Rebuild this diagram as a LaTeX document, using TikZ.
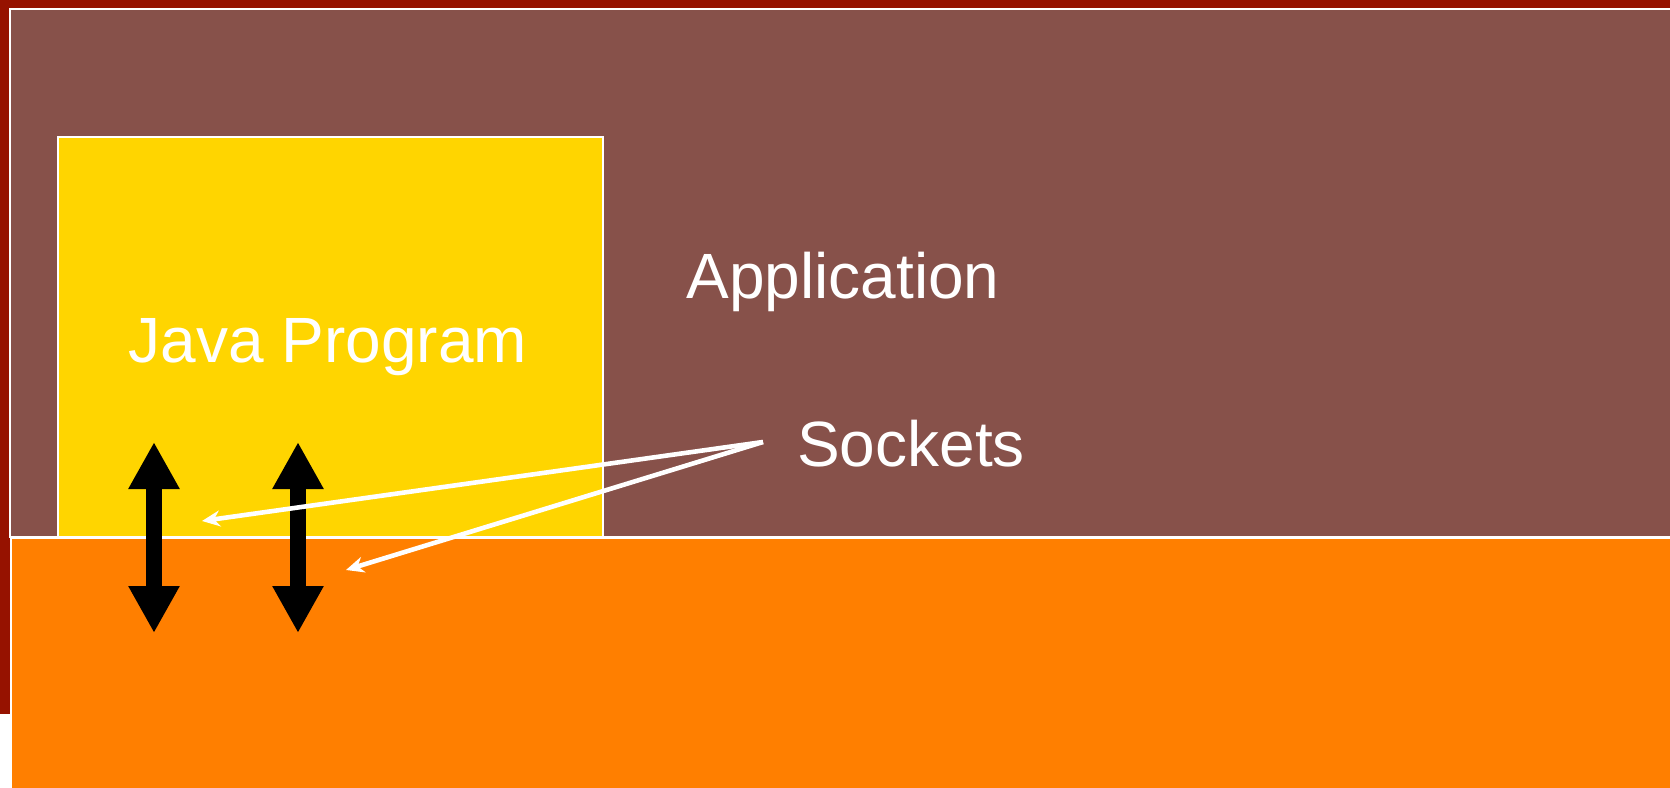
\documentclass[tikz,border=0pt]{standalone}
\usepackage{fontspec}
\setmainfont{Liberation Sans}
\usetikzlibrary{arrows.meta}

\definecolor{framered}{RGB}{150,18,0}
\definecolor{appbrown}{RGB}{135,81,74}
\definecolor{javayellow}{RGB}{255,213,0}
\definecolor{osorange}{RGB}{255,127,0}

\tikzset{
  layer/.style={draw=white,line width=0.8pt},
  layertext/.style={text=white,inner sep=0pt,font=\fontsize{32}{36}\selectfont},
  sockarrow/.style={draw=white,line width=2.3pt,-{Stealth[length=9pt,width=8pt]}},
  ioarrow/.style={line width=8pt,{Triangle[width=24pt,length=23.5pt]}-{Triangle[width=24pt,length=23.5pt]}},
}

\begin{document}
\begin{tikzpicture}[x=0.5pt,y=-0.5pt]
\useasboundingbox (0,0) rectangle (1670,787);
\clip (0,0) rectangle (1670,787);
% layers
\fill[framered] (0,0) rectangle (1700,714);
\path[fill=appbrown,layer] (10,9) rectangle (1700,537);
\path[fill=osorange,layer] (11,538) rectangle (1700,800);
\path[fill=javayellow,layer] (58,137) rectangle (603,537);
% labels
\node[layertext,anchor=base] (app) at (843,298) {Application};
\node[layertext,anchor=base] (java) at (328,362) {Java Program};
\node[layertext,anchor=base] (sockets) at (911,466) {Sockets};
% io arrows
\coordinate (io1top) at (154,442);
\coordinate (io1bot) at (154,633);
\coordinate (io2top) at (298,442);
\coordinate (io2bot) at (298,633);
\draw[ioarrow] (io1top) -- (io1bot);
\draw[ioarrow] (io2top) -- (io2bot);
% socket pointers
\coordinate (sockfrom) at (763,442);
\coordinate (sock1) at (202,521);
\coordinate (sock2) at (346,570);
\draw[sockarrow] (sockfrom) -- (sock1);
\draw[sockarrow] (sockfrom) -- (sock2);
\end{tikzpicture}
\end{document}
